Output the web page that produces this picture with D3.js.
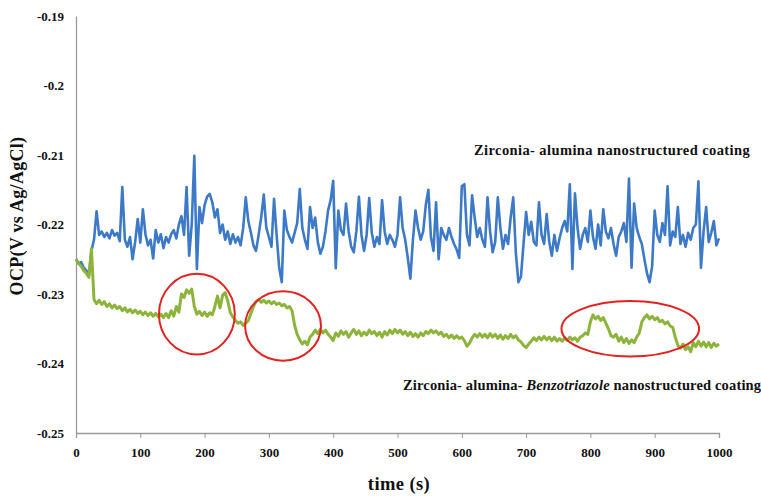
<!DOCTYPE html>
<html>
<head>
<meta charset="utf-8">
<title>OCP vs time</title>
<script src="https://cdn.jsdelivr.net/npm/d3@7"></script>
<style>
  body { margin: 0; background: #fff; }
  text { font-family: "Liberation Serif", "Times New Roman", serif; font-weight: bold; fill: #111; }
</style>
</head>
<body>
<svg id="chart" width="761" height="496"></svg>
<script>
var step = 4;

// Zirconia- alumina coating, OCP (V vs Ag/AgCl), t = 0, 4, 8 ... 1000 s
var blueOCP = [
  -0.2250,-0.2256,-0.2254,-0.2262,-0.2266,-0.2274,-0.2238,-0.2222,-0.2181,-0.2215,
  -0.2210,-0.2218,-0.2212,-0.2220,-0.2208,-0.2216,-0.2212,-0.2224,-0.2146,-0.2222,
  -0.2232,-0.2218,-0.2250,-0.2225,-0.2192,-0.2226,-0.2178,-0.2214,-0.2230,-0.2222,
  -0.2249,-0.2208,-0.2226,-0.2214,-0.2234,-0.2218,-0.2226,-0.2214,-0.2208,-0.2220,
  -0.2200,-0.2188,-0.2215,-0.2146,-0.2245,-0.2200,-0.2101,-0.2264,-0.2175,-0.2198,
  -0.2172,-0.2160,-0.2156,-0.2168,-0.2190,-0.2178,-0.2212,-0.2200,-0.2222,-0.2210,
  -0.2228,-0.2214,-0.2226,-0.2218,-0.2230,-0.2205,-0.2161,-0.2195,-0.2212,-0.2230,
  -0.2238,-0.2215,-0.2190,-0.2157,-0.2205,-0.2218,-0.2232,-0.2163,-0.2215,-0.2262,
  -0.2283,-0.2180,-0.2208,-0.2218,-0.2226,-0.2212,-0.2198,-0.2149,-0.2205,-0.2222,
  -0.2235,-0.2175,-0.2205,-0.2190,-0.2225,-0.2242,-0.2232,-0.2210,-0.2180,-0.2165,
  -0.2137,-0.2263,-0.2180,-0.2208,-0.2215,-0.2170,-0.2210,-0.2232,-0.2240,-0.2210,
  -0.2160,-0.2215,-0.2238,-0.2215,-0.2162,-0.2212,-0.2232,-0.2218,-0.2228,-0.2165,
  -0.2210,-0.2228,-0.2215,-0.2222,-0.2232,-0.2215,-0.2161,-0.2205,-0.2222,-0.2248,
  -0.2278,-0.2222,-0.2180,-0.2205,-0.2222,-0.2210,-0.2172,-0.2150,-0.2218,-0.2238,
  -0.2168,-0.2250,-0.2205,-0.2215,-0.2222,-0.2205,-0.2218,-0.2228,-0.2236,-0.2248,
  -0.2145,-0.2142,-0.2215,-0.2230,-0.2158,-0.2190,-0.2218,-0.2205,-0.2222,-0.2232,
  -0.2161,-0.2210,-0.2240,-0.2225,-0.2161,-0.2205,-0.2235,-0.2215,-0.2228,-0.2190,
  -0.2161,-0.2240,-0.2283,-0.2275,-0.2228,-0.2182,-0.2215,-0.2196,-0.2225,-0.2230,
  -0.2168,-0.2215,-0.2228,-0.2185,-0.2225,-0.2245,-0.2215,-0.2238,-0.2220,-0.2205,
  -0.2195,-0.2210,-0.2142,-0.2264,-0.2155,-0.2205,-0.2235,-0.2215,-0.2205,-0.2225,
  -0.2180,-0.2218,-0.2235,-0.2200,-0.2230,-0.2178,-0.2210,-0.2220,-0.2205,-0.2228,
  -0.2245,-0.2218,-0.2210,-0.2198,-0.2225,-0.2134,-0.2262,-0.2170,-0.2205,-0.2218,
  -0.2228,-0.2250,-0.2270,-0.2283,-0.2260,-0.2180,-0.2215,-0.2225,-0.2198,-0.2215,
  -0.2145,-0.2230,-0.2210,-0.2218,-0.2175,-0.2228,-0.2215,-0.2232,-0.2212,-0.2222,
  -0.2205,-0.2200,-0.2138,-0.2262,-0.2210,-0.2175,-0.2225,-0.2212,-0.2195,-0.2230,
  -0.2220
];

// Zirconia- alumina- Benzotriazole coating, same time grid
var greenOCP = [
  -0.2250,-0.2256,-0.2260,-0.2266,-0.2270,-0.2276,-0.2235,-0.2308,-0.2314,-0.2309,
  -0.2315,-0.2311,-0.2318,-0.2314,-0.2320,-0.2316,-0.2321,-0.2318,-0.2324,-0.2320,
  -0.2326,-0.2322,-0.2327,-0.2323,-0.2328,-0.2325,-0.2330,-0.2326,-0.2331,-0.2327,
  -0.2332,-0.2328,-0.2333,-0.2329,-0.2334,-0.2328,-0.2334,-0.2324,-0.2332,-0.2318,
  -0.2326,-0.2300,-0.2305,-0.2294,-0.2299,-0.2293,-0.2318,-0.2329,-0.2325,-0.2331,
  -0.2326,-0.2332,-0.2327,-0.2330,-0.2318,-0.2303,-0.2320,-0.2302,-0.2298,-0.2310,
  -0.2327,-0.2333,-0.2338,-0.2342,-0.2340,-0.2345,-0.2342,-0.2338,-0.2328,-0.2318,
  -0.2311,-0.2308,-0.2312,-0.2309,-0.2313,-0.2310,-0.2314,-0.2311,-0.2315,-0.2313,
  -0.2317,-0.2315,-0.2320,-0.2318,-0.2324,-0.2345,-0.2358,-0.2366,-0.2372,-0.2368,
  -0.2373,-0.2362,-0.2358,-0.2352,-0.2357,-0.2351,-0.2356,-0.2352,-0.2358,-0.2362,
  -0.2367,-0.2356,-0.2361,-0.2353,-0.2358,-0.2354,-0.2362,-0.2356,-0.2351,-0.2358,
  -0.2353,-0.2360,-0.2355,-0.2359,-0.2352,-0.2357,-0.2354,-0.2360,-0.2355,-0.2362,
  -0.2354,-0.2359,-0.2352,-0.2357,-0.2351,-0.2356,-0.2352,-0.2358,-0.2354,-0.2360,
  -0.2355,-0.2361,-0.2357,-0.2362,-0.2356,-0.2360,-0.2354,-0.2357,-0.2352,-0.2356,
  -0.2353,-0.2358,-0.2355,-0.2361,-0.2358,-0.2363,-0.2359,-0.2364,-0.2360,-0.2364,
  -0.2362,-0.2367,-0.2375,-0.2371,-0.2363,-0.2358,-0.2362,-0.2357,-0.2362,-0.2358,
  -0.2363,-0.2357,-0.2362,-0.2358,-0.2364,-0.2359,-0.2365,-0.2360,-0.2364,-0.2358,
  -0.2363,-0.2360,-0.2366,-0.2369,-0.2374,-0.2377,-0.2372,-0.2368,-0.2363,-0.2367,
  -0.2362,-0.2366,-0.2361,-0.2366,-0.2362,-0.2367,-0.2362,-0.2368,-0.2364,-0.2368,
  -0.2363,-0.2367,-0.2362,-0.2366,-0.2363,-0.2368,-0.2362,-0.2360,-0.2356,-0.2358,
  -0.2340,-0.2330,-0.2336,-0.2332,-0.2338,-0.2334,-0.2342,-0.2350,-0.2360,-0.2362,
  -0.2358,-0.2368,-0.2362,-0.2370,-0.2364,-0.2371,-0.2366,-0.2370,-0.2362,-0.2356,
  -0.2340,-0.2334,-0.2330,-0.2336,-0.2332,-0.2337,-0.2334,-0.2340,-0.2338,-0.2343,
  -0.2340,-0.2346,-0.2348,-0.2362,-0.2374,-0.2378,-0.2372,-0.2380,-0.2376,-0.2383,
  -0.2370,-0.2376,-0.2368,-0.2375,-0.2369,-0.2376,-0.2370,-0.2377,-0.2371,-0.2375,
  -0.2372
];

var xTicks = [0, 100, 200, 300, 400, 500, 600, 700, 800, 900, 1000];
var yTicks = [-0.19, -0.2, -0.21, -0.22, -0.23, -0.24, -0.25];

// red ellipses marking the steps: centre (s, V) and half-axes (s, V)
var markT  = [188, 322, 862];
var markV  = [-0.2329, -0.2346, -0.2350];
var markRT = [59, 59, 107];
var markRV = [0.0058, 0.0050, 0.0040];

var svg = d3.select("#chart");

var x = d3.scaleLinear().domain([0, 1000]).range([76, 719]);
var y = d3.scaleLinear().domain([-0.25, -0.19]).range([433, 16]);

// x axis
var xAxis = svg.append("g")
    .attr("transform", "translate(0," + y(-0.25) + ")")
    .call(d3.axisBottom(x).tickValues(xTicks).tickSize(5).tickPadding(10).tickFormat(d3.format("d")));
xAxis.select(".domain").attr("stroke", "#9a9a9a").attr("stroke-width", 1.3);
xAxis.selectAll(".tick line").attr("stroke", "#9a9a9a");
xAxis.selectAll("text").attr("font-size", 13).attr("font-family", null).attr("fill", null);

// y axis
var yAxis = svg.append("g")
    .attr("transform", "translate(" + x(0) + ",0)")
    .call(d3.axisLeft(y).tickValues(yTicks).tickSizeInner(0).tickSizeOuter(0).tickPadding(12).tickFormat(function(d) { return String(+d.toFixed(2)); }));
yAxis.select(".domain").attr("stroke", "#9a9a9a").attr("stroke-width", 1.3);
yAxis.selectAll("text").attr("font-size", 13).attr("font-family", null).attr("fill", null);

// curves
var line = d3.line()
    .x(function(d, i) { return x(i * step); })
    .y(function(d) { return y(d); });

svg.append("path")
    .datum(blueOCP)
    .attr("d", line)
    .attr("fill", "none")
    .attr("stroke", "#3c79c6")
    .attr("stroke-width", 2.6)
    .attr("stroke-linejoin", "round");

svg.append("path")
    .datum(greenOCP)
    .attr("d", line)
    .attr("fill", "none")
    .attr("stroke", "#8db43a")
    .attr("stroke-width", 3)
    .attr("stroke-linejoin", "round");

// annotations
svg.selectAll(".mark")
    .data(markT)
  .enter().append("ellipse")
    .attr("class", "mark")
    .attr("cx", function(d) { return x(d); })
    .attr("cy", function(d, i) { return y(markV[i]); })
    .attr("rx", function(d, i) { return x(markRT[i]) - x(0); })
    .attr("ry", function(d, i) { return y(-0.25) - y(-0.25 + markRV[i]); })
    .attr("fill", "none")
    .attr("stroke", "#e3221f")
    .attr("stroke-width", 2);

// series labels
svg.append("text")
    .attr("x", 474).attr("y", 155)
    .attr("font-size", 14.5)
    .attr("letter-spacing", 0.4)
    .text("Zirconia- alumina nanostructured coating");

var lab2 = svg.append("text")
    .attr("x", 403).attr("y", 390)
    .attr("font-size", 14.5)
    .attr("letter-spacing", 0.15);
lab2.append("tspan").text("Zirconia- alumina- ");
lab2.append("tspan").attr("font-style", "italic").text("Benzotriazole");
lab2.append("tspan").text(" nanostructured coating");

// axis titles
svg.append("text")
    .attr("x", 399).attr("y", 490)
    .attr("text-anchor", "middle")
    .attr("font-size", 18.5)
    .attr("letter-spacing", 0.4)
    .text("time (s)");

svg.append("text")
    .attr("transform", "translate(23,216) rotate(-90)")
    .attr("text-anchor", "middle")
    .attr("font-size", 18)
    .attr("letter-spacing", 0.3)
    .text("OCP(V vs Ag/AgCl)");
</script>
</body>
</html>
